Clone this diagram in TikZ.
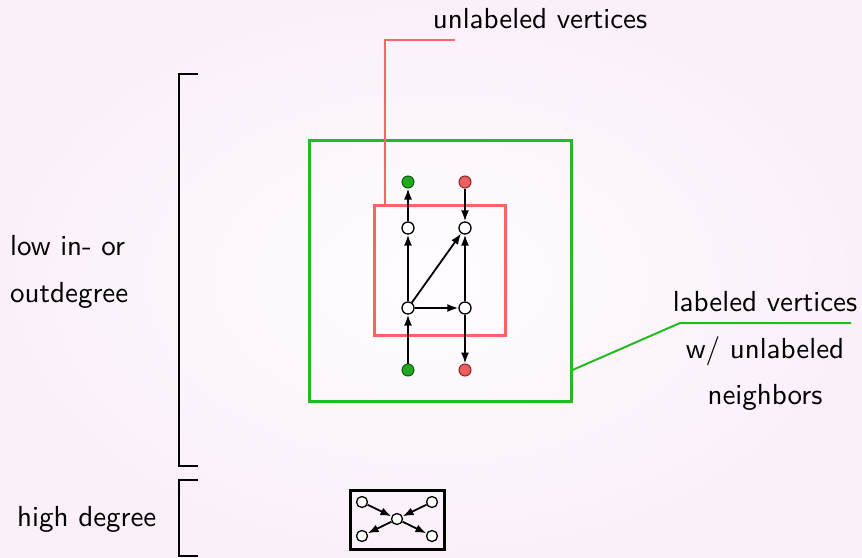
\documentclass[tikz,border=0pt]{standalone}
\usepackage{fontspec}
\setsansfont{lmsans10-regular.otf}
\usetikzlibrary{arrows.meta}
\definecolor{bgout}{RGB}{250,240,250}
\definecolor{bgin}{RGB}{255,253,255}
\definecolor{grn}{RGB}{34,187,34}
\definecolor{rd}{RGB}{255,100,100}
\definecolor{gdot}{RGB}{30,170,30}
\definecolor{gdotb}{RGB}{20,90,20}
\definecolor{rdot}{RGB}{235,95,95}
\definecolor{rdotb}{RGB}{130,40,40}
\begin{document}
\begin{tikzpicture}[x=1pt,y=-1pt,
  lbl/.style={font=\sffamily\fontsize{29}{34}\selectfont, inner sep=0pt},
  wv/.style={circle, draw=black, fill=white, line width=1.3pt, minimum size=12pt, inner sep=0pt},
  gv/.style={circle, draw=gdotb, fill=gdot, line width=1pt, minimum size=12pt, inner sep=0pt},
  rv/.style={circle, draw=rdotb, fill=rdot, line width=1pt, minimum size=12pt, inner sep=0pt},
  sv/.style={circle, draw=black, fill=white, line width=1.3pt, minimum size=11pt, inner sep=0pt},
  edge/.style={-{Latex[length=11pt,width=8pt]}, line width=1.8pt},
  brk/.style={line width=2.5pt, black},
]
\useasboundingbox (0,0) rectangle (862,557);
\shade[inner color=bgin, outer color=bgout] (0,0) rectangle (862,557);

% brackets
\draw[brk] (198,74) -- (179,74) -- (179,466) -- (198,466);
\draw[brk] (198,480) -- (179,480) -- (179,556) -- (198,556);

\node[lbl, anchor=west] (low) at (10,246) {low in- or};
\node[lbl, anchor=west] (out) at (10,295) {outdegree};
\node[lbl, anchor=west] (high) at (17,519) {high degree};

% rectangles
\node[draw=grn, line width=3pt, minimum width=262pt, minimum height=261pt, inner sep=0pt] (grect) at (440,270.5) {};
\node[draw=rd, line width=3pt, minimum width=131pt, minimum height=130pt, inner sep=0pt] (rrect) at (439.5,270) {};

% callouts
\coordinate (rc1) at (385,40);
\coordinate (rc2) at (455,40);
\draw[rd, line width=2pt] (rrect.north west -| 385,0) -- (rc1) -- (rc2);
\node[lbl] (ulab) at (540,19) {unlabeled vertices};

\coordinate (gc1) at (680,323);
\coordinate (gc2) at (851,323);
\draw[grn, line width=2pt] (grect.east |- 0,370) -- (gc1) -- (gc2);
\node[lbl] (lab1) at (765,302) {labeled vertices};
\node[lbl] (lab2) at (765,351) {w/ unlabeled};
\node[lbl] (lab3) at (765,397) {neighbors};

% graph
\node[gv] (g1) at (408,182) {};
\node[rv] (r1) at (465,182) {};
\node[wv] (a) at (408,228) {};
\node[wv] (b) at (465,228) {};
\node[wv] (c) at (408,308) {};
\node[wv] (d) at (465,308) {};
\node[gv] (g2) at (408,370) {};
\node[rv] (r2) at (465,370) {};
\draw[edge] (a) -- (g1);
\draw[edge] (r1) -- (b);
\draw[edge] (c) -- (a);
\draw[edge] (c) -- (b);
\draw[edge] (c) -- (d);
\draw[edge] (d) -- (b);
\draw[edge] (g2) -- (c);
\draw[edge] (d) -- (r2);

% high degree box
\node[draw=black, line width=3pt, minimum width=94pt, minimum height=59pt, inner sep=0pt] (hbox) at (397,519.5) {};
\node[sv] (m) at (397,519) {};
\node[sv] (p1) at (362,502) {};
\node[sv] (p2) at (432,502) {};
\node[sv] (p3) at (362,536) {};
\node[sv] (p4) at (432,536) {};
\draw[edge] (p1) -- (m);
\draw[edge] (p2) -- (m);
\draw[edge] (m) -- (p3);
\draw[edge] (m) -- (p4);
\end{tikzpicture}
\end{document}
